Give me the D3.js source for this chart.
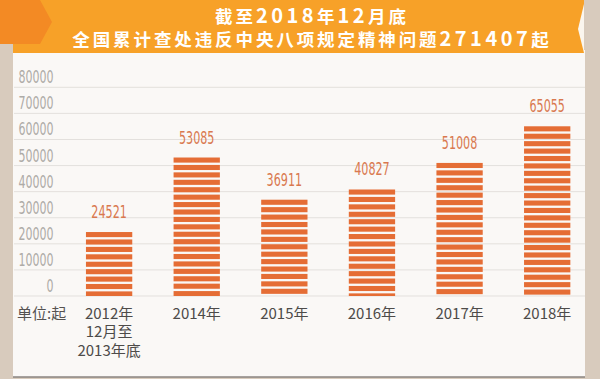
<!DOCTYPE html>
<html><head><meta charset="utf-8">
<script src="https://cdn.jsdelivr.net/npm/d3@7"></script>
<style>body{margin:0;background:#d8cbbd;}svg{display:block;}</style>
</head><body><svg id="c" width="600" height="379"></svg>
<script>
const categories = ["2012年\n12月至\n2013年底","2014年","2015年","2016年","2017年","2018年"];
const values = [24521,53085,36911,40827,51008,65055];
const tickValues = [0,10000,20000,30000,40000,50000,60000,70000,80000];
const titleLines = ["截至2018年12月底","全国累计查处违反中央八项规定精神问题271407起"];
const unitLabel = "单位:起";

const svg = d3.select("#c");
// frame
svg.append("rect").attr("width",600).attr("height",379).attr("fill","#d8cbbd");
svg.append("rect").attr("x",13).attr("y",50).attr("width",572).attr("height",327).attr("fill","#faf8f6");
svg.append("line").attr("x1",13).attr("x2",585).attr("y1",377).attr("y2",377).attr("stroke","#8a8580").attr("stroke-width",1.5);
// banner
svg.append("rect").attr("x",0).attr("y",0).attr("width",584).attr("height",53).attr("fill","#f7a128");
svg.append("path").attr("d","M0,0 L40,0 L52,22 L40,44 L0,44 Z").attr("fill","#f38a24");
svg.append("path").attr("d","M0,44 L13,44 L13,52 Z").attr("fill","#a4532a");
svg.append("rect").attr("x",0).attr("y",44).attr("width",13).attr("height",335).attr("fill","#d8cbbd");
svg.append("path").attr("d","M584,4 L578,29 L584,53 Z").attr("fill","#fbf6ee");

// title with digit runs styled separately
const tg = svg.append("g");
titleLines.forEach((line,i)=>{
  const runs = line.match(/\d+|\D+/g);
  tg.append("text").attr("x",312).attr("y",i?46:23).attr("text-anchor","middle")
    .attr("fill","#ffffff").attr("font-family","'Noto Sans CJK SC'").attr("font-weight","bold")
    .selectAll("tspan").data(runs).join("tspan")
    .attr("font-size",d=>/\d/.test(d)?20:17.5)
    .attr("letter-spacing",d=>/\d/.test(d)?3.5:2.9)
    .text(d=>d);
});

const y = d3.scaleLinear().domain([0,80000]).range([296,87.3]);
const x = d3.scaleBand().domain(categories).range([65.3,591]).paddingInner(0.4715).paddingOuter(0.2357);

// gridlines
svg.append("g").selectAll("line").data(tickValues).join("line")
  .attr("x1",14).attr("x2",585).attr("y1",d=>y(d)).attr("y2",d=>y(d))
  .attr("stroke","#e3e0dd").attr("stroke-width",1);
// tick labels
svg.append("g").selectAll("text").data(tickValues).join("text")
  .attr("x",53.5).attr("y",d=>y(d)-4).attr("text-anchor","end")
  .attr("font-family","'Liberation Sans Narrow','DejaVu Sans Condensed',sans-serif")
  .attr("font-size",18).attr("fill","#aeaba7")
  .attr("textLength",d=>String(d).length*7).attr("lengthAdjust","spacingAndGlyphs")
  .text(d=>d);

// bars (striped)
const period = 7.42, stripe = 5.1;
const bars = svg.append("g").selectAll("g").data(values).join("g");
bars.each(function(v,i){
  const top = y(v), h = y(0)-top;
  d3.select(this).selectAll("rect").data(d3.range(0,h,period)).join("rect")
    .attr("x",x(categories[i])).attr("width",x.bandwidth())
    .attr("y",o=>top+o).attr("height",o=>Math.min(stripe,h-o))
    .attr("fill","#e56d35");
});
// value labels
svg.append("g").selectAll("text").data(values).join("text")
  .attr("x",(d,i)=>x(categories[i])+x.bandwidth()/2).attr("y",d=>y(d)-14)
  .attr("text-anchor","middle")
  .attr("font-family","'Liberation Sans Narrow','DejaVu Sans Condensed',sans-serif")
  .attr("font-size",18).attr("fill","#d9784f")
  .attr("textLength",d=>String(d).length*7.1).attr("lengthAdjust","spacingAndGlyphs")
  .text(d=>d);

// x labels (one text per line)
const xg = svg.append("g");
categories.forEach(c=>{
  c.split("\n").forEach((ln,j)=>{
    xg.append("text").attr("x",x(c)+x.bandwidth()/2).attr("y",319+j*18.3)
      .attr("text-anchor","middle").attr("font-family","'Noto Sans CJK SC'")
      .attr("font-size",15).attr("fill","#4d4b49").text(ln);
  });
});

svg.append("text").attr("x",17).attr("y",319).attr("font-family","'Noto Sans CJK SC'")
  .attr("font-size",15).attr("fill","#555250").text(unitLabel);
</script></body></html>
